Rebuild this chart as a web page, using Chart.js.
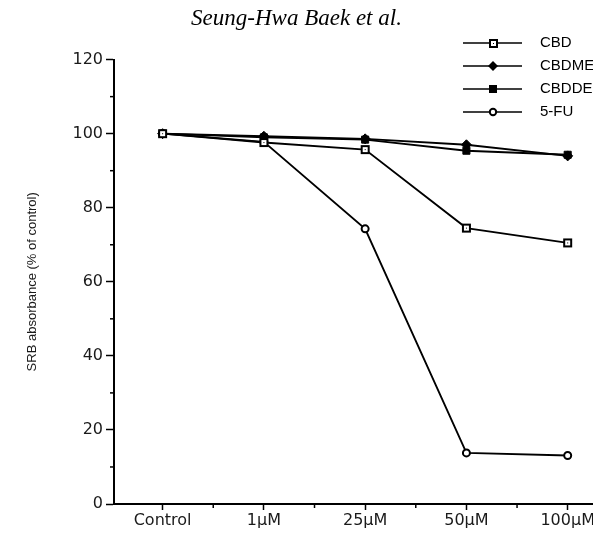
<!DOCTYPE html>
<html>
<head>
<meta charset="utf-8">
<script src="https://cdn.jsdelivr.net/npm/chart.js@4.4.1/dist/chart.umd.min.js"></script>
<style>
html, body { margin: 0; padding: 0; background: #fff; }
#wrap { position: relative; width: 593px; height: 536px; }
</style>
</head>
<body>
<div id="wrap"><canvas id="myChart"></canvas></div>
<script>
// categories + values (% of control)
var doseLabels = ['Control', '1\u03bcM', '25\u03bcM', '50\u03bcM', '100\u03bcM'];
var cbdData   = [100, 97.6, 95.7, 74.5, 70.5];
var cbdmeData = [100, 99.3, 98.6, 97.0, 94.0];
var cbddeData = [100, 99.0, 98.4, 95.4, 94.3];
var fuData    = [100, 97.8, 74.3, 13.8, 13.1];
var seriesNames = ['CBD', 'CBDME', 'CBDDE', '5-FU'];
var yMajor = [0, 20, 40, 60, 80, 100, 120];
var yMinor = [10, 30, 50, 70, 90, 110];
var xMinor = [0.5, 1.5, 2.5, 3.5];

function toPoints(arr) {
    return arr.map(function (v, i) { return { x: i, y: v }; });
}

// open square with a dot in the middle
function openSquare() {
    var c = document.createElement('canvas');
    c.width = 11; c.height = 11;
    var g = c.getContext('2d');
    g.fillStyle = '#000';
    g.fillRect(1, 1, 9, 9);
    g.fillStyle = '#fff';
    g.fillRect(3, 3, 5, 5);
    g.fillStyle = '#000';
    g.fillRect(5, 5, 1, 1);
    return c;
}
var sqMark = openSquare();

var common = { borderColor: '#000', borderWidth: 1.9, pointBorderColor: '#000', tension: 0, fill: false };

var datasets = [
    Object.assign({}, common, { label: seriesNames[0], data: toPoints(cbdData), pointStyle: sqMark }),
    Object.assign({}, common, { label: seriesNames[1], data: toPoints(cbdmeData), pointStyle: 'rectRot', pointRadius: 5, pointBackgroundColor: '#000', pointBorderWidth: 1 }),
    Object.assign({}, common, { label: seriesNames[2], data: toPoints(cbddeData), pointStyle: 'rect', pointRadius: 5, pointBackgroundColor: '#000', pointBorderWidth: 1 }),
    Object.assign({}, common, { label: seriesNames[3], data: toPoints(fuData), pointStyle: 'circle', pointRadius: 3.5, pointBackgroundColor: '#fff', pointBorderWidth: 2 })
];

// minor ticks + legend with line through the marker
var extras = {
    id: 'extras',
    afterDraw: function (chart) {
        var ctx = chart.ctx, xs = chart.scales.x, ys = chart.scales.y;
        ctx.save();
        ctx.strokeStyle = '#000';
        ctx.lineWidth = 1.5;
        yMinor.forEach(function (v) {
            var py = ys.getPixelForValue(v);
            ctx.beginPath(); ctx.moveTo(xs.left - 4, py); ctx.lineTo(xs.left, py); ctx.stroke();
        });
        xMinor.forEach(function (v) {
            var px = xs.getPixelForValue(v);
            ctx.beginPath(); ctx.moveTo(px, ys.bottom); ctx.lineTo(px, ys.bottom + 4); ctx.stroke();
        });

        var rowY = [43, 66, 89, 112];
        ctx.font = '15px "Liberation Sans", Arial, sans-serif';
        ctx.textBaseline = 'middle';
        ctx.fillStyle = '#000';
        chart.data.datasets.forEach(function (ds, i) {
            var y = rowY[i];
            ctx.lineWidth = 1.6;
            ctx.beginPath(); ctx.moveTo(463, y); ctx.lineTo(522, y); ctx.stroke();
            var mx = 493;
            if (i === 0) {
                ctx.drawImage(sqMark, mx - 5, y - 5);
            } else if (i === 1) {
                ctx.beginPath();
                ctx.moveTo(mx, y - 5); ctx.lineTo(mx + 5, y); ctx.lineTo(mx, y + 5); ctx.lineTo(mx - 5, y);
                ctx.closePath(); ctx.fill();
            } else if (i === 2) {
                ctx.fillRect(mx - 4, y - 4, 8, 8);
            } else {
                ctx.beginPath(); ctx.arc(mx, y, 3.2, 0, Math.PI * 2);
                ctx.fillStyle = '#fff'; ctx.fill(); ctx.lineWidth = 2; ctx.stroke();
                ctx.fillStyle = '#000';
            }
            ctx.fillText(ds.label, 540, y);
        });
        ctx.restore();
    }
};

const ctx = document.getElementById('myChart');
new Chart(ctx, {
    type: 'line',
    data: { datasets: datasets },
    plugins: [extras],
    options: {
        responsive: true,
        maintainAspectRatio: false,
        animation: false,
        layout: { autoPadding: false, padding: { left: 0, right: 0, top: 0, bottom: 0 } },
        plugins: {
            legend: { display: false },
            tooltip: { enabled: false },
            title: {
                display: true,
                text: 'Seung-Hwa Baek et al.',
                color: '#000',
                font: { family: '"Liberation Serif", "Times New Roman", serif', style: 'italic', size: 23, weight: 'normal', lineHeight: 1.2 },
                padding: { top: 5, bottom: 27 }
            }
        },
        scales: {
            x: {
                type: 'linear',
                min: -0.48,
                max: 4.25,
                afterFit: function (s) { s.height = 32; s.paddingLeft = 0; s.paddingRight = 0; },
                afterBuildTicks: function (s) {
                    s.ticks = doseLabels.map(function (l, i) { return { value: i }; });
                },
                ticks: {
                    callback: function (v) { return doseLabels[v]; },
                    color: '#1a1a1a',
                    font: { family: '"DejaVu Sans", sans-serif', size: 16 },
                    padding: 1,
                    maxRotation: 0,
                    autoSkip: false
                },
                grid: { drawOnChartArea: false, tickLength: 6, tickColor: '#000', tickWidth: 1.5 },
                border: { color: '#000', width: 2 }
            },
            y: {
                min: 0,
                max: 120,
                afterFit: function (s) { s.width = 114; },
                afterBuildTicks: function (s) {
                    s.ticks = yMajor.map(function (v) { return { value: v }; });
                },
                ticks: {
                    color: '#1a1a1a',
                    font: { family: '"DejaVu Sans", sans-serif', size: 16 },
                    padding: 3
                },
                grid: { drawOnChartArea: false, tickLength: 8, tickColor: '#000', tickWidth: 1.5 },
                border: { color: '#000', width: 2 },
                title: {
                    display: true,
                    text: 'SRB absorbance (% of control)',
                    color: '#1a1a1a',
                    font: { family: '"Liberation Sans", Arial, sans-serif', size: 13 },
                    padding: { top: 25, bottom: 0 }
                }
            }
        }
    }
});
</script>
</body>
</html>
